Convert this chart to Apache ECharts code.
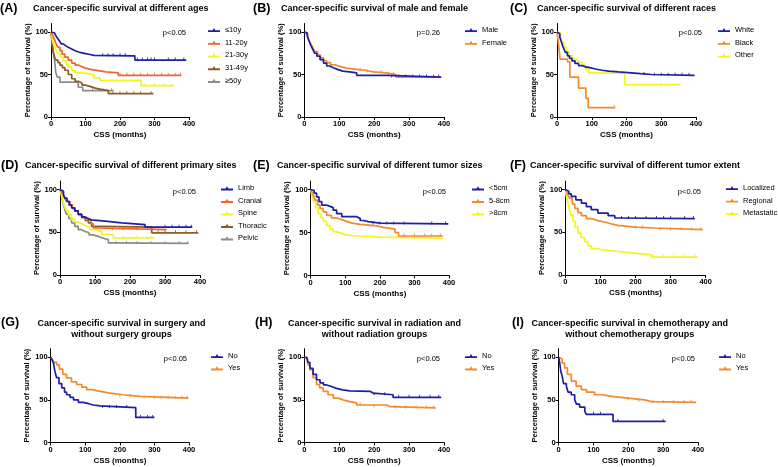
<!DOCTYPE html>
<html><head><meta charset="utf-8">
<script src="https://cdn.jsdelivr.net/npm/echarts@6/dist/echarts.min.js"></script>
<style>html,body{margin:0;padding:0;background:#fff}#c{width:778px;height:467px}</style>
</head><body><div id="c"></div><script>
// ---------- data (time in months, survival %) ----------
const xTicks = [0, 100, 200, 300, 400];
const yTicks = [0, 50, 100];

const ageLe10 = [[0,100],[5,99],[10,97],[15,95],[20,92],[25,89],[30,86],[36,84],[42,82],[50,80],[60,78],[70,76.5],[80,75.5],[90,74.5],[100,73.5],[113,72.5],[125,72],[243,67],[392,67]];
const age11to20 = [[0,100],[4,97],[8,93],[12,89],[16,85],[20,82],[26,78],[32,74],[40,70.5],[50,67],[60,63.5],[70,61],[80,59],[90,57.5],[100,56],[115,54.5],[137,53],[160,52],[195,49],[378,49]];
const age21to30 = [[0,100],[3,93],[7,86],[12,81],[16,77],[21,74.5],[28,70],[36,66],[44,62],[50,59],[60,55],[70,52],[85,51],[108,49],[125,46],[142,43],[261,37],[357,37]];
const age31to49 = [[0,100],[4,85],[7,76],[10,71],[14,67],[20,64],[26,61],[33,58],[40,55],[50,50],[60,45],[70,42],[79,40],[90,37.5],[99,36],[113,34],[128,32.5],[145,31],[166,27.5],[297,27.5]];
const ageGe50 = [[0,100],[3,88],[5,80],[8,72],[10,67],[12,60],[14,52],[18,47],[26,41],[79,35],[92,31],[181,31]];

const sexMale = [[0,100],[4,99],[8,96],[12,91],[16,87],[20,83],[25,79],[30,75],[36,71.5],[45,67.5],[55,63.5],[64,60],[73,58],[83,56],[95,54],[110,53],[130,52],[150,49],[235,47],[392,47]];
const sexFemale = [[0,100],[5,98],[10,94],[15,89],[20,85],[25,81],[30,77],[38,73],[46,69.5],[55,66.5],[64,64],[75,61.5],[88,59.5],[102,57.5],[120,56],[150,55],[175,53],[197,52],[235,50],[262,47],[378,47]];

const raceWhite = [[0,100],[4,98],[8,94],[12,89],[16,84],[20,80],[24,76],[30,72],[36,69],[43,66],[52,63],[62,60.5],[72,59],[82,58],[95,56.5],[110,55],[130,54],[149,53],[177,51],[240,50],[273,49],[396,49]];
const raceBlack = [[0,100],[5,84],[9,68],[30,65],[37,47],[62,34],[83,22],[90,11],[168,11]];
const raceOther = [[0,100],[5,99],[10,93],[14,88],[20,82],[27,77],[34,72],[45,68],[55,66],[62,64],[72,61],[82,57],[91,52],[110,51.5],[195,38],[353,38]];

const siteLimb = [[0,100],[5,98],[10,94],[14,90],[20,86],[26,82],[33,78.6],[42,75],[52,71],[62,68],[71,66],[80,64.5],[90,63],[129,61],[176,59],[243,56],[378,56]];
const siteCranial = [[0,100],[5,97],[10,93],[15,89],[20,86],[28,82],[35,78],[43,75],[52,71],[62,68],[72,66],[81,64],[88,60],[95,55],[109,53],[305,53]];
const siteSpine = [[0,100],[4,94],[7,89],[10,84],[14,79],[19,75],[25,70],[33,65],[42,62],[52,60],[62,58],[71,56],[85,53],[100,51],[119,47.5],[152,43.5],[269,43.5]];
const siteThoracic = [[0,100],[5,97],[10,93],[15,89],[20,86],[28,82],[35,78],[43,75],[52,71],[62,67],[72,64],[81,61],[90,57],[119,56],[262,49.4],[395,49.4]];
const sitePelvic = [[0,100],[3,95],[6,89],[10,82.5],[14,76],[19,71],[25,66],[33,61],[42,57],[52,53],[62,51],[71,49.4],[83,47],[95,45.5],[107,43.5],[119,41.6],[138,37.7],[150,37],[367,37]];

const sizeLt5 = [[0,100],[5,99],[10,96],[17,91.5],[24,86],[32,82],[45,80.5],[56,79],[65,76],[75,72],[90,68.5],[133,66.5],[143,64],[152,62.7],[167,61],[200,60],[398,60]];
const size5to8 = [[0,100],[4,97],[8,93],[13,87.7],[20,82],[27,78],[36,74],[46,70],[60,67],[75,65],[90,63],[104,61],[120,59.5],[143,57.7],[191,56],[210,54],[244,50],[254,46],[382,46]];
const sizeGt8 = [[0,100],[3,94],[8,86],[14,79],[22,72],[30,67],[37,63],[46,58],[56,54],[65,51],[75,49],[90,47],[104,46],[143,44.6],[200,43.5],[382,43.5]];

const extLocalized = [[0,100],[5,98],[10,95],[17,92],[30,88],[46,84],[60,80],[74,76.5],[93,72.5],[122,69.4],[141,66.7],[150,66],[369,66]];
const extRegional = [[0,100],[4,97],[8,93],[12,90],[20,83],[27,78],[36,73],[46,69.4],[60,66],[74,64],[90,62],[112,60],[130,58],[150,56],[198,55],[255,53],[392,53]];
const extMetastatic = [[0,100],[3,92],[8,84],[12,77],[16,70],[22,63],[28,56],[36,49],[45,44],[55,39],[65,34],[74,31],[90,29],[112,27.5],[150,25.5],[198,23.5],[245,21],[378,21]];

const surgNo = [[0,100],[4,97],[8,93],[12,84],[17,76],[24,69],[32,64],[40,59],[46,56],[56,53],[66,50],[80,47],[94,45.5],[110,44],[123,43],[143,41],[246,29.4],[300,29.4]];
const surgYes = [[0,100],[5,97],[10,94],[17,91],[25,86],[35,80],[46,75.7],[60,71],[75,68],[90,65],[104,62],[120,60],[143,58],[172,56],[210,54],[258,52],[398,52]];

const radNo = [[0,100],[7,99],[10,94],[16,87],[25,80],[35,73.6],[45,70],[55,67.5],[64,65.7],[78,63.5],[92,61.8],[110,60.5],[130,60],[188,58],[197,56],[254,53],[392,53]];
const radYes = [[0,100],[5,98],[10,91],[16,85],[25,76],[35,68],[44,64],[54,60],[68,56],[83,52],[97,50],[111,48],[130,46.5],[150,44],[235,42],[245,40.5],[376,40.5]];

const chemoNo = [[0,100],[3,93],[6,83.5],[10,77.6],[14,69],[22,66],[27,59],[36,56],[46,50],[51,45],[60,41.6],[75,36.5],[79,33],[156,24.7],[307,24.7]];
const chemoYes = [[0,100],[5,98],[10,93],[17,87.5],[25,80],[36,72],[50,66],[65,62],[80,59],[103,56],[125,54],[151,52],[199,50],[247,48],[266,47],[395,47]];

// censored observations (tick marks) [time, survival]
const cenAgeLe10 = [[150,72],[165,72],[180,72],[200,72],[215,72],[250,67],[265,67],[280,67],[290,67],[300,67],[340,67],[360,67],[385,67]];
const cenAge11to20 = [[200,49],[220,49],[240,49],[260,49],[280,49],[300,49],[320,49],[340,49],[360,49],[375,49]];
const cenAge21to30 = [[270,37],[300,37],[330,37],[350,37]];
const cenAge31to49 = [[180,27.5],[200,27.5],[220,27.5],[240,27.5],[260,27.5],[290,27.5]];
const cenAgeGe50 = [[120,31],[150,31],[175,31]];
const cenMale = [[250,47],[270,47],[290,47],[310,47],[330,47],[350,47],[370,47],[385,47]];
const cenFemale = [[160,55],[180,53],[200,52],[220,52],[240,50],[255,50]];
const cenWhite = [[250,50],[280,49],[300,49],[320,49],[340,49],[360,49],[380,49]];
const cenBlack = [[165,11]];
const cenOther = [[110,51.5],[130,51.5],[300,38]];
const cenLimb = [[300,56],[320,56],[340,56],[360,56],[375,56]];
const cenCranial = [[150,53],[180,53],[220,53],[260,53]];
const cenSpine = [[180,43.5],[220,43.5],[260,43.5]];
const cenThoracic = [[280,49.4],[300,49.4],[330,49.4],[360,49.4],[390,49.4]];
const cenPelvic = [[160,37],[190,37],[220,37],[260,37],[300,37],[340,37],[365,37]];
const cenLt5 = [[180,60],[200,60],[220,60],[240,60],[270,60],[350,60],[390,60]];
const cen5to8 = [[270,46],[300,46],[330,46],[350,46],[375,46]];
const cenGt8 = [[150,44.6],[200,43.5],[250,43.5],[300,43.5],[350,43.5]];
const cenLocalized = [[160,66],[180,66],[200,66],[230,66],[260,66],[280,66],[300,66],[340,66],[365,66]];
const cenRegional = [[200,55],[220,55],[270,53],[300,53],[330,53],[360,53],[385,53]];
const cenMetastatic = [[250,21],[280,21],[310,21],[340,21],[370,21]];
const cenSurgNo = [[150,41],[170,41],[190,41],[220,41],[260,29.4],[280,29.4],[295,29.4]];
const cenSurgYes = [[200,54],[230,54],[270,52],[300,52],[320,52],[340,52],[360,52],[380,52],[395,52]];
const cenRadNo = [[200,56],[230,56],[270,53],[300,53],[330,53],[360,53],[385,53]];
const cenRadYes = [[160,44],[200,42],[260,40.5],[290,40.5],[320,40.5],[350,40.5],[370,40.5]];
const cenChemoNo = [[100,33],[120,33],[170,24.7],[300,24.7]];
const cenChemoYes = [[200,50],[230,48],[270,47],[300,47],[330,47],[360,47],[380,47]];

// ---------- styling ----------
const FONT = '"Liberation Sans", Arial, Helvetica, sans-serif';
const BLUE = '#1f1fa6', ORANGE = '#f28a2e', RED = '#f0652b', YELLOW = '#f5f51e', BROWN = '#8e5c2a', GRAY = '#8c8c8c';

const panels = [
  {lab:'(A)', labPos:[0,8.5], title:['Cancer-specific survival at different ages'], tPos:[33,8.5], tAlign:'left',
   g:[51,23.5,138,93.5], leg:[225,30,12.7], pv:['p<0.05',186,33],
   s:[['≤10y',ageLe10,BLUE,cenAgeLe10],['11-20y',age11to20,RED,cenAge11to20],['21-30y',age21to30,YELLOW,cenAge21to30],['31-49y',age31to49,BROWN,cenAge31to49],['≥50y',ageGe50,GRAY,cenAgeGe50]]},
  {lab:'(B)', labPos:[253,8.5], title:['Cancer-specific survival of male and female'], tPos:[281,8.5], tAlign:'left',
   g:[304.3,23.5,139.7,93.5], leg:[482,30,12.7], pv:['p=0.26',440,33],
   s:[['Male',sexMale,BLUE,cenMale],['Female',sexFemale,ORANGE,cenFemale]]},
  {lab:'(C)', labPos:[510,8.5], title:['Cancer-specific survival of different races'], tPos:[537,8.5], tAlign:'left',
   g:[557,23.5,139,93.5], leg:[735,30,12.7], pv:['p<0.05',702,33],
   s:[['White',raceWhite,BLUE,cenWhite],['Black',raceBlack,ORANGE,cenBlack],['Other',raceOther,YELLOW,cenOther]]},
  {lab:'(D)', labPos:[1,166], title:['Cancer-specific survival of different primary sites'], tPos:[25,166], tAlign:'left',
   g:[60,181,140,94], leg:[238,188.3,12.5], pv:['p<0.05',196,191.7],
   s:[['Limb',siteLimb,BLUE,cenLimb],['Cranial',siteCranial,RED,cenCranial],['Spine',siteSpine,YELLOW,cenSpine],['Thoracic',siteThoracic,BROWN,cenThoracic],['Pelvic',sitePelvic,GRAY,cenPelvic]]},
  {lab:'(E)', labPos:[253,166], title:['Cancer-specific survival of different tumor sizes'], tPos:[277,166], tAlign:'left',
   g:[310.7,181,138.3,94.5], leg:[489,188.3,12.5], pv:['p<0.05',446,191.7],
   s:[['<5cm',sizeLt5,BLUE,cenLt5],['5-8cm',size5to8,ORANGE,cen5to8],['>8cm',sizeGt8,YELLOW,cenGt8]]},
  {lab:'(F)', labPos:[510,166], title:['Cancer-specific survival of different tumor extent'], tPos:[530,166], tAlign:'left',
   g:[565.3,181,140.4,94], leg:[743,188,12.5], pv:['p<0.05',701,191.7],
   s:[['Localized',extLocalized,BLUE,cenLocalized],['Regional',extRegional,ORANGE,cenRegional],['Metastatic',extMetastatic,YELLOW,cenMetastatic]]},
  {lab:'(G)', labPos:[1,323], title:['Cancer-specific survival in surgery and','without surgery groups'], tPos:[121.5,323.3], tAlign:'center',
   g:[50.7,348.7,138.3,93.8], leg:[228,356,12.3], pv:['p<0.05',187,359],
   s:[['No',surgNo,BLUE,cenSurgNo],['Yes',surgYes,ORANGE,cenSurgYes]]},
  {lab:'(H)', labPos:[255,323], title:['Cancer-specific survival in radiation and','without radiation groups'], tPos:[374.5,323.3], tAlign:'center',
   g:[304.3,348.7,139.7,93.8], leg:[482,356,12.3], pv:['p<0.05',440,359],
   s:[['No',radNo,BLUE,cenRadNo],['Yes',radYes,ORANGE,cenRadYes]]},
  {lab:'(I)', labPos:[512,323], title:['Cancer-specific survival in chemotherapy and','without chemotherapy groups'], tPos:[629.7,323.3], tAlign:'center',
   g:[558.7,348.7,139.3,93.8], leg:[736,356,12.3], pv:['p<0.05',695,359],
   s:[['No',chemoNo,BLUE,cenChemoNo],['Yes',chemoYes,ORANGE,cenChemoYes]]}
];

const grid = [], xAxis = [], yAxis = [], series = [], legend = [], graphic = [];
const axisCommon = {
  axisLine: {show: true, lineStyle: {color: '#000', width: 1}},
  axisTick: {show: true, length: 3, lineStyle: {color: '#000', width: 1}},
  splitLine: {show: false}
};
panels.forEach((p, i) => {
  grid.push({left: p.g[0], top: p.g[1], width: p.g[2], height: p.g[3]});
  xAxis.push(Object.assign({}, axisCommon, {
    type: 'value', gridIndex: i, min: 0, max: 400, interval: 100,
    axisTick: Object.assign({}, axisCommon.axisTick, {customValues: xTicks}),
    axisLabel: {customValues: xTicks, fontSize: 7.5, fontWeight: 'bold', color: '#000', margin: 3, fontFamily: FONT},
    name: 'CSS (months)', nameLocation: 'middle', nameGap: 14,
    nameTextStyle: {fontSize: 8, fontWeight: 'bold', color: '#000', fontFamily: FONT}
  }));
  yAxis.push(Object.assign({}, axisCommon, {
    type: 'value', gridIndex: i, min: 0, max: 110,
    axisTick: Object.assign({}, axisCommon.axisTick, {customValues: yTicks}),
    axisLabel: {customValues: yTicks, fontSize: 7.5, fontWeight: 'bold', color: '#000', margin: 3, fontFamily: FONT},
    name: 'Percentage of survival (%)', nameLocation: 'middle', nameGap: 15, nameRotate: 90,
    nameTextStyle: {fontSize: 7.5, fontWeight: 'bold', color: '#000', fontFamily: FONT}
  }));
  p.s.slice().reverse().forEach(([name, data, color, cen]) => {
    series.push({
      type: 'line', name, data, step: 'end', xAxisIndex: i, yAxisIndex: i,
      symbol: 'none', showSymbol: false, silent: true, animation: false,
      lineStyle: {color, width: 1.7}, itemStyle: {color}
    });
    series.push({
      type: 'scatter', name: name + ' (censored)', data: cen, xAxisIndex: i, yAxisIndex: i,
      symbol: 'rect', symbolSize: [1, 3], symbolOffset: [0, -1], silent: true, animation: false,
      itemStyle: {color, opacity: 0.85}
    });
  });
  const rowH = 10;
  legend.push({
    orient: 'vertical', left: p.leg[0] - 17, top: p.leg[1] - rowH / 2, padding: 0,
    itemWidth: 12, itemHeight: 5, itemGap: p.leg[2] - rowH,
    icon: 'path://M0,3L5,3L6.5,0.5L8,3L13,3L13,5L0,5Z',
    selectedMode: false,
    textStyle: {fontSize: 7.5, lineHeight: rowH, color: '#000', fontFamily: FONT},
    data: p.s.map(s => s[0])
  });
  graphic.push({type: 'text', x: p.labPos[0], y: p.labPos[1],
    style: {text: p.lab, font: 'bold 12.5px ' + FONT, fill: '#000', textAlign: 'left', textVerticalAlign: 'middle'}});
  p.title.forEach((line, k) => {
    graphic.push({type: 'text', x: p.tPos[0], y: p.tPos[1] + k * 11,
      style: {text: line, font: 'bold 9px ' + FONT, fill: '#000', textAlign: p.tAlign, textVerticalAlign: 'middle'}});
  });
  graphic.push({type: 'text', x: p.pv[1], y: p.pv[2],
    style: {text: p.pv[0], font: '7.5px ' + FONT, fill: '#000', textAlign: 'right', textVerticalAlign: 'middle'}});
});

const chart = echarts.init(document.getElementById('c'), null, {renderer: 'canvas'});
chart.setOption({
  backgroundColor: '#fff', animation: false,
  grid, xAxis, yAxis, series, legend, graphic
});
</script></body></html>
